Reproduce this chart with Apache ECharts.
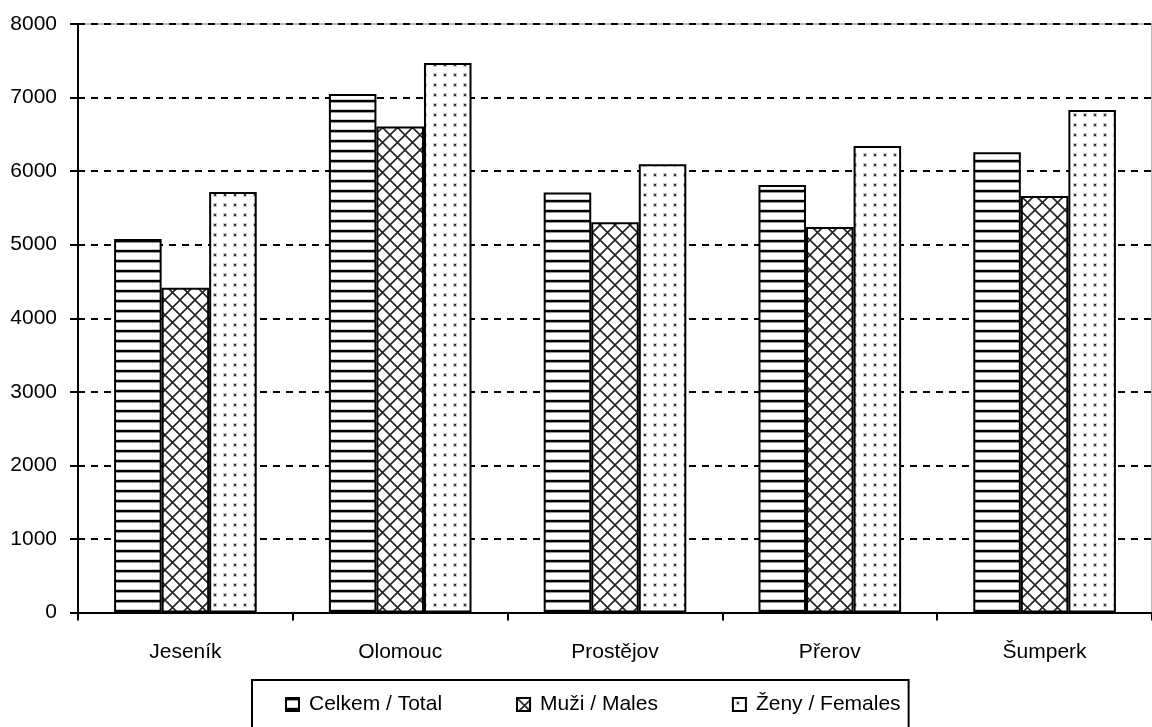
<!DOCTYPE html>
<html><head><meta charset="utf-8">
<script src="https://cdn.jsdelivr.net/npm/echarts@6/dist/echarts.min.js"></script>
<style>html,body{margin:0;padding:0;background:#fff;}#c{width:1152px;height:727px;}</style>
</head><body><div id="c"></div>
<script>
const categories = ['Jeseník', 'Olomouc', 'Prostějov', 'Přerov', 'Šumperk'];
const seriesNames = ['Celkem / Total', 'Muži / Males', 'Ženy / Females'];
const totalValues = [5078, 7050, 5708, 5812, 6257];
const maleValues = [4416, 6605, 5305, 5240, 5663];
const femaleValues = [5717, 7471, 6094, 6343, 6832];
const yTicks = [0, 1000, 2000, 3000, 4000, 5000, 6000, 7000, 8000];

function mk(w, h, draw) {
  const c = document.createElement('canvas'); c.width = w; c.height = h;
  const g = c.getContext('2d'); g.fillStyle = '#fff'; g.fillRect(0, 0, w, h); draw(g); return c;
}
const pStripes = mk(10, 10, g => { g.fillStyle = '#000'; g.fillRect(0, 0, 10, 2); g.fillStyle = '#999'; g.fillRect(0, 2, 10, 1); g.fillStyle = '#ccc'; g.fillRect(0, 9, 10, 1); });
const pCross = mk(15, 15, g => {
  g.strokeStyle = '#222'; g.lineWidth = 1.6;
  g.beginPath();
  for (let k = -1; k <= 1; k++) {
    g.moveTo(k * 15, 0); g.lineTo(k * 15 + 15, 15);
    g.moveTo(k * 15 + 15, 0); g.lineTo(k * 15, 15);
  }
  g.stroke();
});
const pDots = mk(10, 10, g => { g.fillStyle = '#ccc'; g.fillRect(3, 3, 4, 4); g.fillStyle = '#333'; g.fillRect(4, 4, 2, 2); });
const pats = [pStripes, pCross, pDots];
const vals = [totalValues, maleValues, femaleValues];

const chart = echarts.init(document.getElementById('c'), null, {renderer: 'canvas'});
const font = '"Liberation Sans", Arial, sans-serif';
const fs = 21;
chart.setOption({
  animation: false,
  backgroundColor: '#fff',
  grid: {left: 78, top: 24, width: 1085, height: 588.5, show: true, borderColor: '#777', borderWidth: 1, backgroundColor: 'transparent'},
  legend: {
    left: 252, top: 680, padding: [14, 8, 30, 33], itemGap: 74,
    borderColor: '#000', borderWidth: 2, itemWidth: 13, itemHeight: 13,
    icon: 'rect',
    textStyle: {fontFamily: font, fontSize: fs, color: '#000', padding: [0, 0, 0, 5]},
    data: seriesNames
  },
  xAxis: {
    type: 'category', data: categories,
    axisLine: {lineStyle: {color: '#000', width: 2}},
    axisTick: {show: true, length: 8, lineStyle: {color: '#000', width: 2}},
    axisLabel: {fontFamily: font, fontSize: fs, color: '#000', margin: 29}
  },
  yAxis: {
    type: 'value', min: yTicks[0], max: yTicks[yTicks.length - 1], interval: 1000,
    axisLine: {show: true, lineStyle: {color: '#000', width: 2}},
    axisTick: {show: true, length: 8, lineStyle: {color: '#000', width: 2}},
    axisLabel: {fontFamily: font, fontSize: fs, color: '#000', margin: 21, formatter: v => String(v)},
    splitLine: {show: true, lineStyle: {color: '#000', width: 2, type: [7, 6]}}
  },
  series: seriesNames.map((n, i) => ({
    name: n, type: 'bar', data: vals[i],
    barGap: '0%', barCategoryGap: '33.6%',
    itemStyle: {color: {image: pats[i], repeat: 'repeat'}, borderColor: '#000', borderWidth: 2}
  }))
});
</script></body></html>
